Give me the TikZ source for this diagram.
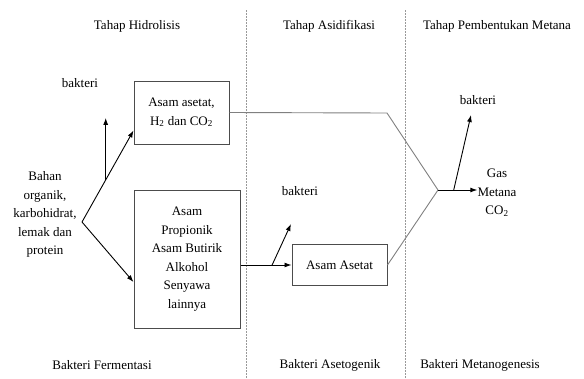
\documentclass[tikz,border=0pt]{standalone}
\usepackage{fontspec}
\setmainfont{Liberation Serif}
\usetikzlibrary{arrows.meta,calc}
\definecolor{boxgray}{rgb}{0.3,0.3,0.3}
\definecolor{linegray}{rgb}{0.5,0.5,0.5}
\begin{document}
\begin{tikzpicture}[x=1pt,y=-1pt,>={Latex[length=7pt,width=5pt]},
		font=\fontsize{13}{18.5}\selectfont,
		stagebox/.style = {draw=boxgray,line width=1pt,inner sep=2pt,align=center},
		txt/.style = {inner sep=0pt,align=center},
		flow/.style = {->,line width=0.9pt},
		feed/.style = {draw=linegray,line width=0.9pt},
		sep/.style = {draw=linegray!80,dash pattern=on 2pt off 1pt,line width=0.8pt}]
		\useasboundingbox (0,0) rectangle (584,378);
		% stage separators
		\draw[sep] (246,10) -- (246,378);
		\draw[sep] (405,10) -- (405,378);
		% stage titles
		\node [txt] (hidro) at (137,26) {Tahap Hidrolisis};
		\node [txt] (asidi) at (329,26) {Tahap Asidifikasi};
		\node [txt] (metan) at (497,26) {Tahap Pembentukan Metana};
		% bacteria
		\node [txt] (fermen) at (102,365) {Bakteri Fermentasi};
		\node [txt] (aseto) at (330,365) {Bakteri Asetogenik};
		\node [txt] (metano) at (480,365) {Bakteri Metanogenesis};
		% boxes
		\node [stagebox,minimum width=95pt,minimum height=63pt] (asetat) at (181.5,112.5)
			{Asam asetat,\\H\textsubscript{2} dan CO\textsubscript{2}};
		\node [stagebox,minimum width=106pt,minimum height=138pt] (asam) at (187,259)
			{Asam\\Propionik\\Asam Butirik\\Alkohol\\Senyawa\\lainnya};
		\node [stagebox,minimum width=95pt,minimum height=41pt] (asetat2) at (339.5,265)
			{Asam Asetat};
		\node [txt] (bahan) at (45,214.5) {Bahan\\organik,\\karbohidrat,\\lemak dan\\protein};
		\node [txt] (gas) at (497,193) {Gas\\Metana\\CO\textsubscript{2}};
		\node [txt] (bak1) at (80,83) {bakteri};
		\node [txt] (bak2) at (300,191) {bakteri};
		\node [txt] (bak3) at (478,100) {bakteri};
		% connectors
		\coordinate (split) at (82,222);
		\coordinate (junc) at (438,190);
		\coordinate (bend) at (387,113);
		\coordinate (up1) at ([yshift=14pt]asetat.south west);
		\coordinate (dn1) at ([yshift=-23pt]asam.west);
		\draw[flow] (split) -- (up1);
		\draw[flow] (split) -- (dn1);
		\draw[flow] ($(split)!0.46!(up1)$) -- ++(0,-62) coordinate (t1);
		\draw[flow] (asam.east |- asetat2.west) -- (asetat2.west);
		\draw[flow] ($(asam.east |- asetat2.west)!0.62!(asetat2.west)$) -- (291,224) coordinate (t2);
		\draw[feed] (asetat.east) -- (bend) -- (junc);
		\draw[feed] (asetat2.east) -- (junc);
		\draw[flow] (junc) -- (gas.west |- junc);
		\draw[flow] ($(junc)!0.4!(gas.west |- junc)$) -- (471,115) coordinate (t3);
\end{tikzpicture}
\end{document}
